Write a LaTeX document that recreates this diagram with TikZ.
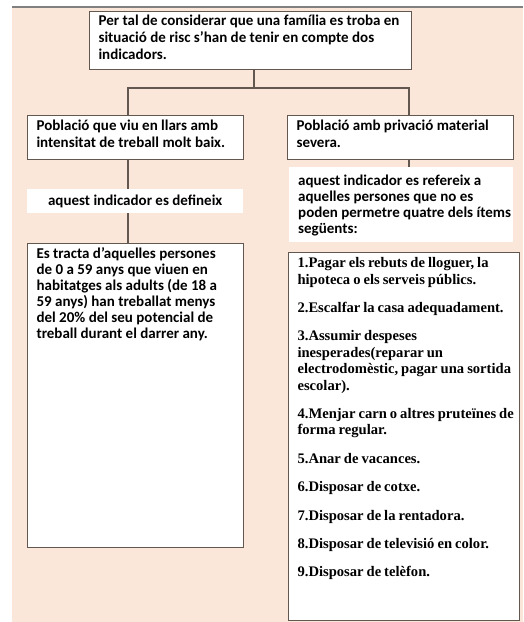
\documentclass[tikz,border=0pt]{standalone}
\usepackage{fontspec}
\setmainfont{Carlito}
\newfontfamily\itemfont{Liberation Serif}
\usetikzlibrary{positioning}

\definecolor{peach}{RGB}{251,231,217}
\definecolor{boxline}{RGB}{98,88,80}

% text set at the top of a box of given width and height
\newcommand{\boxfill}[4]{\parbox[c][#2][t]{#1}{\raggedright\leftskip=9pt\vspace{#3}#4}}

\begin{document}
\begin{tikzpicture}[x=1pt,y=-1pt]
    \tikzstyle{rect} = [shape=rectangle, draw=boxline, fill=white, line width=1.1pt, inner sep=0pt, anchor=north west, font=\bfseries\fontsize{15}{17.2}\selectfont]
    \tikzstyle{note} = [shape=rectangle, fill=white, inner sep=0pt, anchor=north west, font=\bfseries\fontsize{15}{16}\selectfont]
    \tikzstyle{wire} = [draw=boxline, line width=1.1pt]

    \useasboundingbox (0,0) rectangle (523,622);
    \fill[peach] (12,8) rectangle (523,622);
    \draw[gray, line width=1.5pt] (12,7) -- (523,7);

    \node[rect] (top) at (89,11) {\boxfill{322pt}{58pt}{3.5pt}{Per tal de considerar que una família es troba en\\situació de risc s’han de tenir en compte dos\\indicadors.}};

    \node[rect] (poblA) at (27,115) {\boxfill{216pt}{44pt}{4pt}{Població que viu en llars amb\\intensitat de treball molt baix.}};
    \node[rect] (poblB) at (287,115) {\boxfill{226pt}{44pt}{4pt}{Població amb privació material\\severa.}};

    \node[note, minimum width=216pt, minimum height=24pt] (defnote) at (27,189) {aquest indicador es defineix};
    \node[note] (refnote) at (289,167) {\boxfill{224pt}{75pt}{8pt}{aquest indicador es refereix a\\aquelles persones que no es\\poden permetre quatre dels ítems\\següents:}};

    \node[rect, font=\bfseries\fontsize{15}{16}\selectfont] (tracta) at (27,243) {\boxfill{216pt}{304pt}{4.5pt}{Es tracta d’aquelles persones\\de 0 a 59 anys que viuen en\\habitatges als adults (de 18 a\\59 anys) han treballat menys\\del 20\% del seu potencial de\\treball durant el darrer any.}};

    \node[rect, font=\itemfont\bfseries\fontsize{14.6}{16.4}\selectfont] (items) at (288,252) {\boxfill{231pt}{368pt}{5pt}{\spaceskip=3pt plus 1pt minus 1pt
        1.Pagar els rebuts de lloguer, la\\hipoteca o els serveis públics.\par\vspace{12pt}
        2.Escalfar la casa adequadament.\par\vspace{12pt}
        3.Assumir despeses\\inesperades(reparar un\\electrodomèstic, pagar una sortida\\escolar).\par\vspace{12pt}
        4.Menjar carn o altres pruteïnes de\\forma regular.\par\vspace{12pt}
        5.Anar de vacances.\par\vspace{12pt}
        6.Disposar de cotxe.\par\vspace{12pt}
        7.Disposar de la rentadora.\par\vspace{12pt}
        8.Disposar de televisió en color.\par\vspace{12pt}
        9.Disposar de telèfon.}};

    % connectors
    \coordinate (busM) at (254,88);
    \coordinate (busL) at (128,88);
    \coordinate (busR) at (409,88);
    \draw[wire] (busM |- top.south) -- (busM);
    \draw[wire] (busL |- poblA.north) -- (busL) -- (busR) -- (busR |- poblB.north);
    \draw[wire] (busL |- poblA.south) -- (busL |- defnote.north);
    \draw[wire] (busL |- defnote.south) -- (busL |- tracta.north);
    \draw[wire] (busR |- poblB.south) -- (busR |- refnote.north);
\end{tikzpicture}
\end{document}
